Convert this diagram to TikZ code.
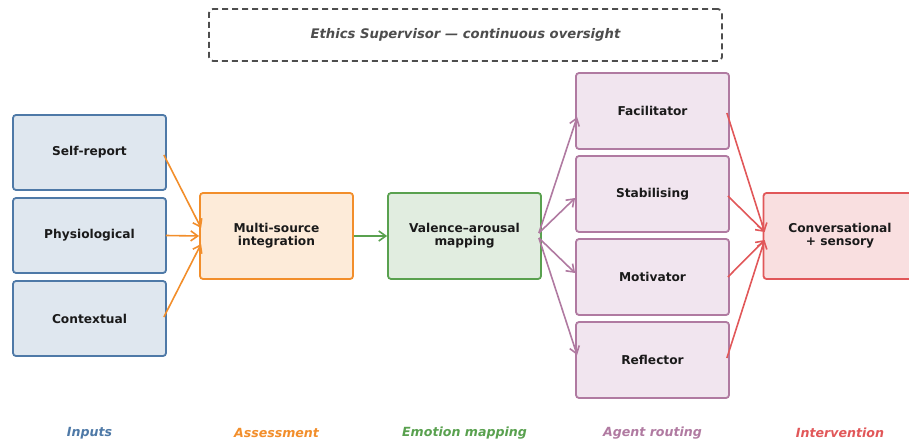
\documentclass[tikz,border=0pt]{standalone}
\usepackage{fontspec}
\setmainfont{DejaVu Sans}
\usetikzlibrary{arrows.meta,positioning}
\definecolor{inblue}{HTML}{4E79A7}
\definecolor{inbluefill}{HTML}{DFE7EF}
\definecolor{asorange}{HTML}{F28E2B}
\definecolor{asorangefill}{HTML}{FDEBD9}
\definecolor{emgreen}{HTML}{59A14F}
\definecolor{emgreenfill}{HTML}{E1EDE0}
\definecolor{agpurple}{HTML}{B07AA1}
\definecolor{agpurplefill}{HTML}{F1E5EF}
\definecolor{ivred}{HTML}{E15759}
\definecolor{ivredfill}{HTML}{F9DFE0}
\definecolor{supgray}{HTML}{4D4D4D}
\definecolor{txtdark}{HTML}{1A1A1A}

\begin{document}
\begin{tikzpicture}[x=1pt,y=-1pt,
  box/.style={draw, line width=1.8pt, rounded corners=3pt, minimum width=153pt,
    minimum height=75pt, align=center, text=txtdark,
    font=\bfseries\fontsize{12.2}{13.2}\selectfont},
  flow/.style={line width=1.6pt, -{Straight Barb[length=7pt,width=10pt]}},
  stage/.style={font=\bfseries\itshape\fontsize{12.6}{14}\selectfont}]
\useasboundingbox (0,0) rectangle (909,446);
% Ethics supervisor (dashed banner)
\node[draw=supgray, dash pattern=on 6pt off 4pt, line width=1.8pt, rounded corners=4pt,
  minimum width=513pt, minimum height=52pt, text=supgray,
  font=\bfseries\itshape\fontsize{13.2}{14}\selectfont] (ethics) at (465.5,35)
  {Ethics Supervisor — continuous oversight};
% Inputs
\node[box, draw=inblue, fill=inbluefill] (self) at (89.5,152.5) {Self-report};
\node[box, draw=inblue, fill=inbluefill] (phys) at (89.5,235.5) {Physiological};
\node[box, draw=inblue, fill=inbluefill] (ctx) at (89.5,318.5) {Contextual};
% Assessment and emotion mapping
\node[box, draw=asorange, fill=asorangefill, minimum height=86pt] (multi) at (276.5,236)
  {Multi-source\\integration};
\node[box, draw=emgreen, fill=emgreenfill, minimum height=86pt] (valence) at (464.5,236)
  {Valence–arousal\\mapping};
% Agents
\node[box, draw=agpurple, fill=agpurplefill, minimum height=76pt] (fac) at (652.5,111) {Facilitator};
\node[box, draw=agpurple, fill=agpurplefill, minimum height=76pt] (stab) at (652.5,194) {Stabilising};
\node[box, draw=agpurple, fill=agpurplefill, minimum height=76pt] (mot) at (652.5,277) {Motivator};
\node[box, draw=agpurple, fill=agpurplefill, minimum height=76pt] (refl) at (652.5,360) {Reflector};
% Intervention
\node[box, draw=ivred, fill=ivredfill, minimum height=86pt] (conv) at (840,236)
  {Conversational\\+ sensory};
% Connectors
\draw[flow, asorange] ([xshift=-3pt,yshift=-2.5pt]self.east) -- ([xshift=2pt,yshift=8pt]multi.west);
\draw[flow, asorange] ([xshift=-1pt]phys.east) -- (multi.west);
\draw[flow, asorange] ([xshift=-3pt,yshift=1.5pt]ctx.east) -- ([xshift=2pt,yshift=-8pt]multi.west);
\draw[flow, emgreen] (multi.east) -- (valence.west);
\draw[flow, agpurple] ([xshift=-3pt,yshift=3pt]valence.east) -- ([xshift=2pt,yshift=-6pt]fac.west);
\draw[flow, agpurple] ([xshift=-3pt,yshift=3pt]valence.east) -- ([yshift=-4pt]stab.west);
\draw[flow, agpurple] ([xshift=-3pt,yshift=-2pt]valence.east) -- ([yshift=4pt]mot.west);
\draw[flow, agpurple] ([xshift=-3pt,yshift=-2pt]valence.east) -- ([xshift=2pt,yshift=5pt]refl.west);
\draw[flow, ivred] ([xshift=-3pt,yshift=-2pt]fac.east) -- ([xshift=2pt,yshift=4pt]conv.west);
\draw[flow, ivred] ([xshift=-2pt,yshift=-2pt]stab.east) -- ([xshift=2pt,yshift=4pt]conv.west);
\draw[flow, ivred] ([xshift=-2pt]mot.east) -- ([xshift=2pt,yshift=-4pt]conv.west);
\draw[flow, ivred] ([xshift=-3pt,yshift=2pt]refl.east) -- ([xshift=2pt,yshift=-4pt]conv.west);
% Stage labels
\node[stage, inblue] (lblin) at (89.5,433) {Inputs};
\node[stage, asorange] (lblas) at (276.5,433) {Assessment};
\node[stage, emgreen] (lblem) at (464.5,433) {Emotion mapping};
\node[stage, agpurple] (lblag) at (652.5,433) {Agent routing};
\node[stage, ivred] (lbliv) at (840,433) {Intervention};
\end{tikzpicture}
\end{document}
